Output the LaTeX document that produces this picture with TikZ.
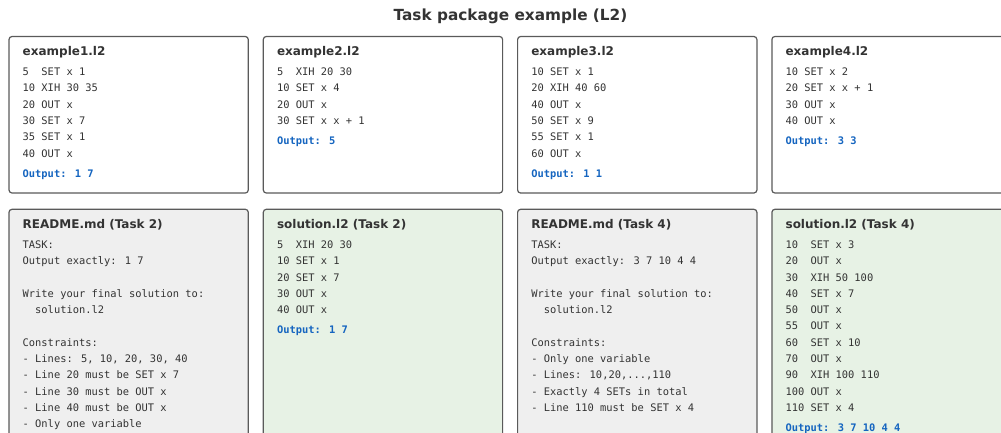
\documentclass[tikz,border=0pt]{standalone}
\usepackage{fontspec}
\setmainfont{DejaVu Sans}
\newfontfamily\codefont{DejaVu Sans Mono}
\usetikzlibrary{positioning,calc}

\definecolor{ink}{HTML}{333333}
\definecolor{edge}{HTML}{5A5A5A}
\definecolor{outblue}{HTML}{1565C0}
\definecolor{mdgray}{HTML}{EFEFEF}
\definecolor{solgreen}{HTML}{E7F2E5}

\begin{document}
\begin{tikzpicture}[
   x=1pt, y=1pt,
   panel/.style={draw=edge, line width=1.2pt, rounded corners=3pt, fill=white,
                 minimum width=239.3pt, minimum height=156.5pt,
                 inner sep=0pt, outer sep=0pt, anchor=north west},
   readme/.style={panel, fill=mdgray, minimum height=240pt},
   sol/.style={readme, fill=solgreen},
   heading/.style={font=\fontsize{15.3}{18}\selectfont\bfseries, text=ink,
                   inner sep=0pt, anchor=base},
   fname/.style={font=\fontsize{12}{14}\selectfont\bfseries, text=ink, inner sep=0pt},
   code/.style={font=\codefont\fontsize{10.4}{16.3}\selectfont, text=ink,
                align=left, inner sep=0pt},
   outp/.style={font=\codefont\fontsize{10.4}{16.3}\selectfont\bfseries,
                text=outblue, inner sep=0pt},
   node distance=15pt]
\useasboundingbox (0,0) rectangle (1001,-432);
\clip (0,0) rectangle (1001,-432);

\node[heading] (head) at (510.5,-20) {Task package example (L2)};

% example programs
\node[panel] (p1) at (9,-36.5) {};
\node[panel, right=of p1] (p2) {};
\node[panel, right=of p2] (p3) {};
\node[panel, right=of p3] (p4) {};

% task files
\node[readme, below=16.3pt of p1] (p5) {};
\node[sol, below=16.3pt of p2] (p6) {};
\node[readme, below=16.3pt of p3] (p7) {};
\node[sol, below=16.3pt of p4] (p8) {};

% file names
\node[fname, below right=18.5pt and 13.5pt of p1.north west, anchor=base west] (t1) {example1.l2};
\node[fname, below right=18.5pt and 13.5pt of p2.north west, anchor=base west] (t2) {example2.l2};
\node[fname, below right=18.5pt and 13.5pt of p3.north west, anchor=base west] (t3) {example3.l2};
\node[fname, below right=18.5pt and 13.5pt of p4.north west, anchor=base west] (t4) {example4.l2};
\node[fname, below right=18.7pt and 13.5pt of p5.north west, anchor=base west] (t5) {README.md (Task 2)};
\node[fname, below right=18.7pt and 13.5pt of p6.north west, anchor=base west] (t6) {solution.l2 (Task 2)};
\node[fname, below right=18.7pt and 13.5pt of p7.north west, anchor=base west] (t7) {README.md (Task 4)};
\node[fname, below right=18.7pt and 13.5pt of p8.north west, anchor=base west] (t8) {solution.l2 (Task 4)};

% listings (top of first line sits one cap height above its baseline)
\node[code, below=12.7pt of t1.base west, anchor=north west] (c1)
  {5~~SET x 1\\10 XIH 30 35\\20 OUT x\\30 SET x 7\\35 SET x 1\\40 OUT x};
\node[code, below=12.7pt of t2.base west, anchor=north west] (c2)
  {5~~XIH 20 30\\10 SET x 4\\20 OUT x\\30 SET x x + 1};
\node[code, below=12.7pt of t3.base west, anchor=north west] (c3)
  {10 SET x 1\\20 XIH 40 60\\40 OUT x\\50 SET x 9\\55 SET x 1\\60 OUT x};
\node[code, below=12.7pt of t4.base west, anchor=north west] (c4)
  {10 SET x 2\\20 SET x x + 1\\30 OUT x\\40 OUT x};
\node[code, below=12.5pt of t5.base west, anchor=north west] (c5)
  {TASK:\\Output exactly: 1 7\\\mbox{}\\Write your final solution to:\\~~solution.l2\\\mbox{}\\
   Constraints:\\- Lines: 5, 10, 20, 30, 40\\- Line 20 must be SET x 7\\- Line 30 must be OUT x\\
   - Line 40 must be OUT x\\- Only one variable};
\node[code, below=12.5pt of t6.base west, anchor=north west] (c6)
  {5~~XIH 20 30\\10 SET x 1\\20 SET x 7\\30 OUT x\\40 OUT x};
\node[code, below=12.5pt of t7.base west, anchor=north west] (c7)
  {TASK:\\Output exactly: 3 7 10 4 4\\\mbox{}\\Write your final solution to:\\~~solution.l2\\\mbox{}\\
   Constraints:\\- Only one variable\\- Lines: 10,20,...,110\\- Exactly 4 SETs in total\\
   - Line 110 must be SET x 4};
\node[code, below=12.5pt of t8.base west, anchor=north west] (c8)
  {10~~SET x 3\\20~~OUT x\\30~~XIH 50 100\\40~~SET x 7\\50~~OUT x\\55~~OUT x\\
   60~~SET x 10\\70~~OUT x\\90~~XIH 100 110\\100 OUT x\\110 SET x 4};

% printed results
\node[outp, below=19.6pt of c1.south west, anchor=base west] (o1) {Output: 1 7};
\node[outp, below=19.6pt of c2.south west, anchor=base west] (o2) {Output: 5};
\node[outp, below=19.6pt of c3.south west, anchor=base west] (o3) {Output: 1 1};
\node[outp, below=19.6pt of c4.south west, anchor=base west] (o4) {Output: 3 3};
\node[outp, below=19.4pt of c6.south west, anchor=base west] (o6) {Output: 1 7};
\node[outp, below=19.4pt of c8.south west, anchor=base west] (o8) {Output: 3 7 10 4 4};
\end{tikzpicture}
\end{document}
